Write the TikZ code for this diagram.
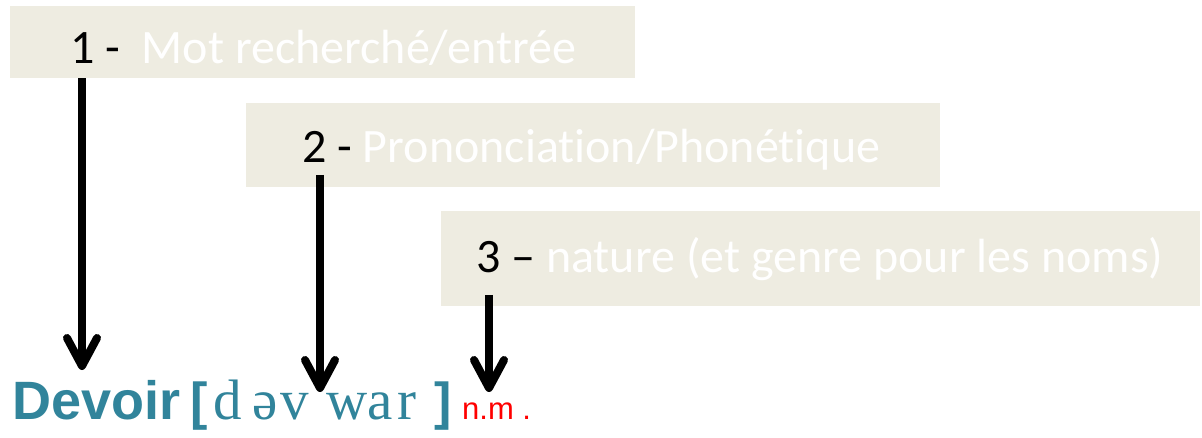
\documentclass[tikz,border=0pt]{standalone}
\usepackage{fontspec}
\usetikzlibrary{arrows.meta}
\newfontfamily\calibri[Ligatures={NoCommon,NoDiscretionary,NoRare}]{Carlito}
\newfontfamily\arialf{Liberation Sans}
\newfontfamily\timesf{Liberation Serif}
\definecolor{boxfill}{HTML}{EEECE1}
\definecolor{tealw}{HTML}{31849B}
\definecolor{redw}{HTML}{FF0000}
\tikzset{
  labelbox/.style={fill=boxfill, draw=none, inner sep=0pt, anchor=north west},
  labeltext/.style={anchor=base west, inner sep=0pt, font=\calibri\fontsize{48}{48}\selectfont, text=black},
  pointer/.style={line width=8pt, -{Straight Barb[length=28pt,width=30pt,round]}},
  entry/.style={anchor=base west, inner sep=0pt, text=tealw},
  ipaletter/.style={entry, font=\timesf\fontsize{57}{57}\selectfont},
  bracket/.style={entry, font=\arialf\bfseries\fontsize{52}{52}\selectfont}
}
\begin{document}
\begin{tikzpicture}[x=1pt,y=-1pt]
\useasboundingbox (0,0) rectangle (1202,438);
% boxes
\node[labelbox, minimum width=625pt, minimum height=72pt] (b1) at (10,6) {};
\node[labelbox, minimum width=694pt, minimum height=84pt] (b2) at (246,103) {};
\node[labelbox, minimum width=759pt, minimum height=95pt] (b3) at (441,211) {};
% labels
\node[labeltext] (t1) at (70,64) {1 -\ \ \textcolor{white}{Mot recherché/entrée}};
\node[labeltext] (t2) at (302,163) {2 - \textcolor{white}{Prononciation/Phonétique}};
\node[labeltext] (t3) at (476,273) {3 – \textcolor{white}{nature (et genre pour les noms)}};
% entry
\node[entry, font=\arialf\bfseries\fontsize{54}{54}\selectfont] (dev) at (12,419) {Devoir};
\node[bracket] (lb) at (190,419) {[};
\node[ipaletter] (p1) at (213,419) {d};
\node[ipaletter] (p2) at (252,419) {ə};
\node[ipaletter] (p3) at (280,419) {v};
\node[ipaletter] (p4) at (326,419) {w};
\node[ipaletter] (p5) at (367,419) {a};
\node[ipaletter] (p6) at (397,419) {r};
\node[bracket] (rb) at (434,419) {]};
\node[entry, text=redw, font=\arialf\fontsize{31}{31}\selectfont] (nm) at (462,419) {n.m .};
% pointers
\coordinate (e1) at (82,370);
\coordinate (e2) at (320,392);
\coordinate (e3) at (489,392);
\coordinate (s2) at (320,175);
\coordinate (s3) at (489,295);
\draw[pointer] (b1.south -| e1) -- (e1);
\draw[pointer] (s2) -- (e2);
\draw[pointer] (s3) -- (e3);
\end{tikzpicture}
\end{document}
